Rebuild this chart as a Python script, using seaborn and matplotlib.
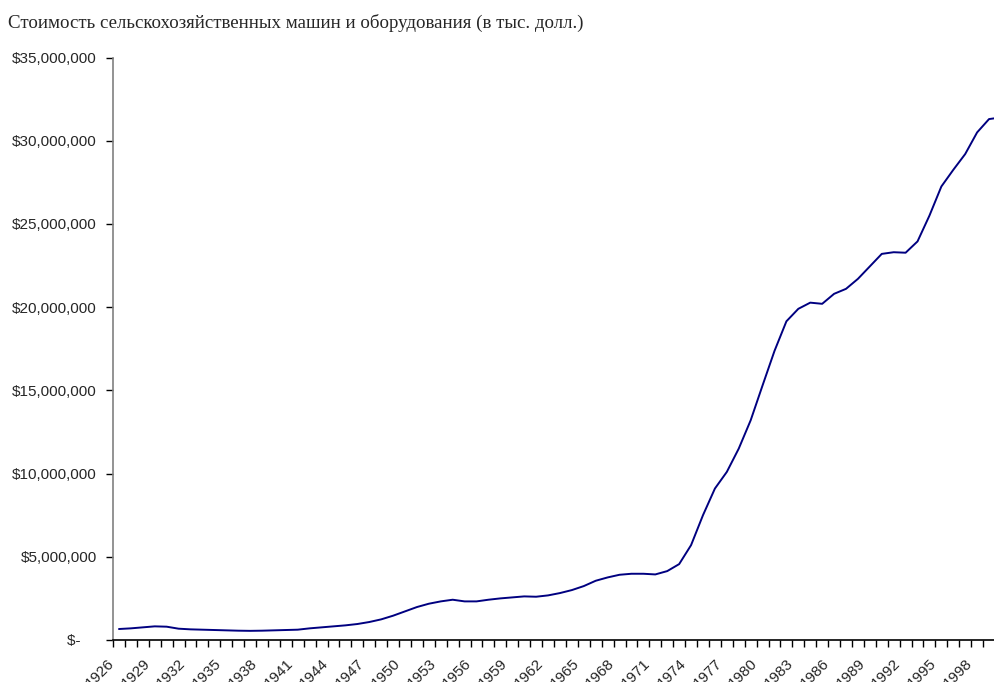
import matplotlib
matplotlib.use("Agg")
import matplotlib.pyplot as plt
import matplotlib.ticker as mticker
import matplotlib.transforms as mtransforms
import seaborn as sns
import pandas as pd
import numpy as np

# ---- data (values in thousands of dollars) ----
years = list(range(1926, 2001))
values_mln = [
    0.66, 0.70, 0.76, 0.82, 0.80, 0.68, 0.64, 0.62, 0.60, 0.58,   # 1926-1935
    0.56, 0.55, 0.56, 0.58, 0.60, 0.62, 0.70, 0.76, 0.82, 0.88,   # 1936-1945
    0.96, 1.08, 1.24, 1.46, 1.72, 1.98, 2.18, 2.32, 2.42, 2.32,   # 1946-1955
    2.32, 2.42, 2.50, 2.56, 2.62, 2.60, 2.68, 2.82, 3.00, 3.24,   # 1956-1965
    3.56, 3.76, 3.92, 3.98, 3.98, 3.94, 4.14, 4.56, 5.70, 7.50,   # 1966-1975
    9.10, 10.10, 11.50, 13.20, 15.30, 17.37, 19.15, 19.90, 20.27, 20.20,  # 1976-1985
    20.80, 21.10, 21.70, 22.45, 23.20, 23.30, 23.27, 23.95, 25.50, 27.25,  # 1986-1995
    28.25, 29.20, 30.50, 31.30, 31.40,                             # 1996-2000
]
values = [v * 1_000_000 for v in values_mln]
title = "Стоимость сельскохозяйственных машин и оборудования (в тыс. долл.)"
label_years = list(range(1926, 2000, 3))
y_ticks = [0, 5_000_000, 10_000_000, 15_000_000, 20_000_000, 25_000_000, 30_000_000, 35_000_000]

df = pd.DataFrame({"year": years, "value": values})

sns.set_style("white")
plt.rcParams["font.family"] = ["Liberation Sans", "DejaVu Sans"]

fig = plt.figure(figsize=(9.95, 6.82), dpi=100)
ax = fig.add_axes([113 / 995, 42 / 682, 1 - 113 / 995, (640 - 57.5) / 682])

sns.lineplot(data=df, x="year", y="value", ax=ax, color="#000080", linewidth=1.4, clip_on=True)

ax.set_xlabel("")
ax.set_ylabel("")

# y axis
ax.set_yticks(y_ticks)
def fmt(v, pos):
    if v == 0:
        return "$-    "
    return "${:,.0f}".format(v)
ax.yaxis.set_major_formatter(mticker.FuncFormatter(fmt))
ax.tick_params(axis="y", which="major", direction="out", length=5, width=1,
               color="black", pad=6.5, labelsize=11, left=True)

# x axis: tick marks at category boundaries, labels every 3 years
bounds = [y - 0.5 for y in years[:-1]] + [years[-2] + 0.5]
ax.set_xticks(bounds)
ax.set_xticklabels([""] * len(bounds))
ax.tick_params(axis="x", which="major", direction="out", length=5, width=1,
               color="black", bottom=True)
ax.set_xticks(label_years, minor=True)
ax.set_xticklabels([str(y) for y in label_years], minor=True, rotation=45,
                   ha="right", va="top", rotation_mode="anchor", fontsize=11)
ax.tick_params(axis="x", which="minor", length=0, pad=12)
shift = mtransforms.ScaledTranslation(-12 / 100, 0, fig.dpi_scale_trans)
for lab in ax.get_xticklabels(minor=True):
    lab.set_transform(lab.get_transform() + shift)

# limits set after ticks (set_xticks may expand the view)
ax.set_xlim(1925.5, 1999.5)
ax.set_ylim(0, 35_000_000)

for s in ["top", "right"]:
    ax.spines[s].set_visible(False)
ax.spines["left"].set_color("#808080")
ax.spines["left"].set_linewidth(1.2)
ax.spines["bottom"].set_color("black")
ax.spines["bottom"].set_linewidth(1.2)
ax.grid(False)

fig.text(8 / 995, 1 - 28 / 682, title, family=["Liberation Serif", "DejaVu Serif"],
         fontsize=13.6, ha="left", va="baseline")

fig.savefig("out.png", dpi=100)
